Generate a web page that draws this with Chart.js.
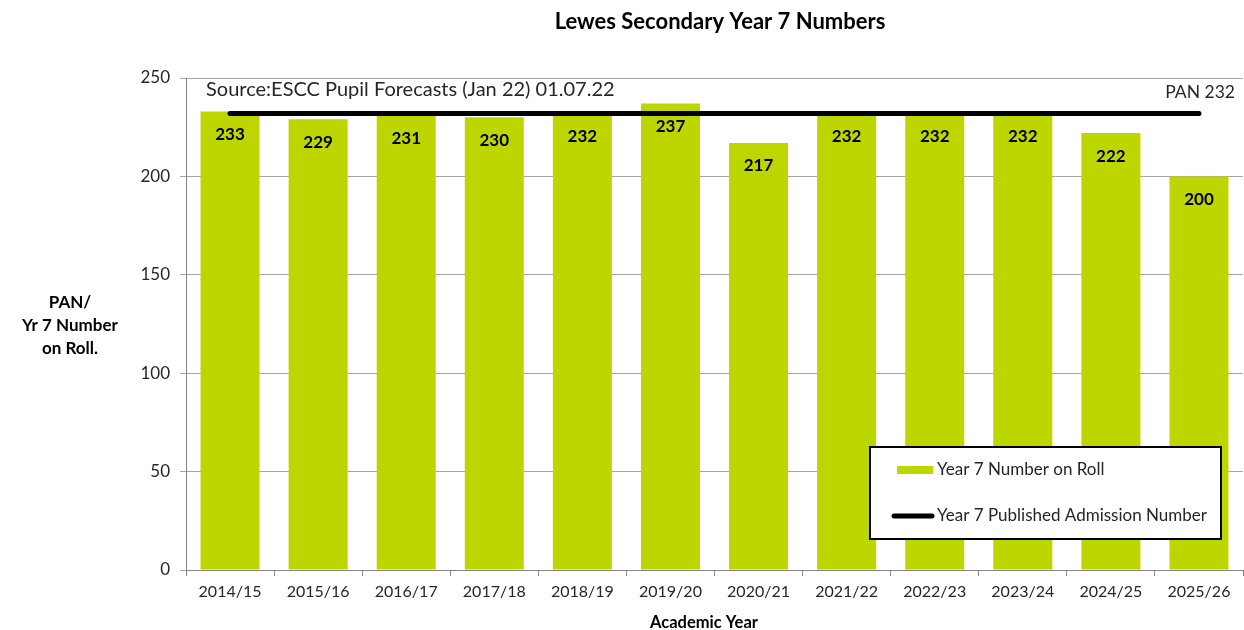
<!DOCTYPE html>
<html lang="en">
<head>
    <meta charset="UTF-8">
    <title>Lewes Secondary Year 7 Numbers</title>
    <script src="https://cdn.jsdelivr.net/npm/chart.js"></script>
    <style>
        html, body { margin: 0; padding: 0; background: #fff; }
        #wrap { width: 1244px; height: 630px; }
    </style>
</head>
<body>
    <div id="wrap"><canvas id="grafico" width="1244" height="630"></canvas></div>

    <script>
        // dados
        const categories = ['2014/15', '2015/16', '2016/17', '2017/18', '2018/19', '2019/20',
            '2020/21', '2021/22', '2022/23', '2023/24', '2024/25', '2025/26'];
        const rollNumbers = [233, 229, 231, 230, 232, 237, 217, 232, 232, 232, 222, 200];
        const panNumbers = [232, 232, 232, 232, 232, 232, 232, 232, 232, 232, 232, 232];
        const yTickMin = 0;
        const yTickMax = 250;
        const yTickStep = 50;

        const FONT = 'Lato, "Open Sans", sans-serif';
        const GREEN = '#BED600';
        const TEXT = '#262626';

        // textos, legenda e rótulos desenhados por cima
        const extras = {
            id: 'extras',
            afterDatasetsDraw(chart) {
                const ctx = chart.ctx;
                ctx.save();

                // rótulos dos valores dentro das barras
                const barMeta = chart.getDatasetMeta(1);
                ctx.font = 'bold 17px ' + FONT;
                ctx.fillStyle = '#000';
                ctx.textAlign = 'center';
                ctx.textBaseline = 'middle';
                barMeta.data.forEach((bar, i) => {
                    ctx.fillText(String(rollNumbers[i]), bar.x, bar.y + 23);
                });

                // fonte dos dados
                ctx.font = '20px ' + FONT;
                ctx.fillStyle = TEXT;
                ctx.textAlign = 'left';
                ctx.fillText('Source:ESCC Pupil Forecasts (Jan 22) 01.07.22', 206, 90);

                ctx.font = '17.5px ' + FONT;
                ctx.textAlign = 'right';
                ctx.fillText('PAN 232', 1235, 92);

                // legenda
                const lx = 870, ly = 447, lw = 351, lh = 92;
                ctx.fillStyle = '#fff';
                ctx.fillRect(lx, ly, lw, lh);
                ctx.strokeStyle = '#000';
                ctx.lineWidth = 2;
                ctx.strokeRect(lx, ly, lw, lh);

                ctx.fillStyle = GREEN;
                ctx.fillRect(897, 466, 36, 8);
                ctx.beginPath();
                ctx.lineCap = 'round';
                ctx.lineWidth = 5;
                ctx.moveTo(894, 516);
                ctx.lineTo(932, 516);
                ctx.stroke();

                ctx.font = '17px ' + FONT;
                ctx.fillStyle = TEXT;
                ctx.textAlign = 'left';
                ctx.fillText('Year 7 Number on Roll', 937, 470);
                ctx.fillText('Year 7 Published Admission Number', 937, 516);

                ctx.restore();
            },
            afterDraw(chart) {
                const ctx = chart.ctx;
                ctx.save();
                ctx.fillStyle = '#000';
                ctx.textAlign = 'center';
                ctx.textBaseline = 'middle';

                ctx.font = 'bold 22px ' + FONT;
                ctx.fillText('Lewes Secondary Year 7 Numbers', 720, 22);

                ctx.font = 'bold 17px ' + FONT;
                ctx.fillText('PAN/', 70, 303);
                ctx.fillText('Yr 7 Number', 70, 326);
                ctx.fillText('on Roll.', 70, 349);

                ctx.font = 'bold 16.5px ' + FONT;
                ctx.fillText('Academic Year', 704, 623);
                ctx.restore();
            }
        };

        const ctxBar = document.getElementById('grafico').getContext('2d');
        const grafico = new Chart(ctxBar, {
            data: {
                labels: categories,
                datasets: [
                    {
                        type: 'line',
                        label: 'Year 7 Published Admission Number',
                        data: panNumbers,
                        borderColor: '#000',
                        borderWidth: 5,
                        borderCapStyle: 'round',
                        pointRadius: 0,
                        fill: false,
                        order: 0
                    },
                    {
                        type: 'bar',
                        label: 'Year 7 Number on Roll',
                        data: rollNumbers,
                        backgroundColor: GREEN,
                        categoryPercentage: 0.67,
                        barPercentage: 1,
                        order: 1
                    }
                ]
            },
            options: {
                responsive: false,
                animation: false,
                layout: { padding: { top: 78, right: 1, left: 0, bottom: 0 } },
                plugins: {
                    legend: { display: false },
                    title: { display: false },
                    tooltip: { enabled: false }
                },
                scales: {
                    x: {
                        afterFit(scale) { scale.height = 60; },
                        grid: {
                            offset: true,
                            drawOnChartArea: false,
                            color: '#868686',
                            tickLength: 6
                        },
                        border: { color: '#868686', width: 1 },
                        ticks: {
                            color: TEXT,
                            font: { family: FONT, size: 16 },
                            padding: 6,
                            maxRotation: 0
                        }
                    },
                    y: {
                        min: yTickMin,
                        max: yTickMax,
                        afterFit(scale) { scale.width = 186; },
                        grid: {
                            color: '#A6A6A6',
                            tickLength: 6
                        },
                        border: { color: '#868686', width: 1 },
                        ticks: {
                            stepSize: yTickStep,
                            color: TEXT,
                            font: { family: FONT, size: 17 },
                            padding: 10
                        }
                    }
                }
            },
            plugins: [extras]
        });
    </script>
</body>
</html>
